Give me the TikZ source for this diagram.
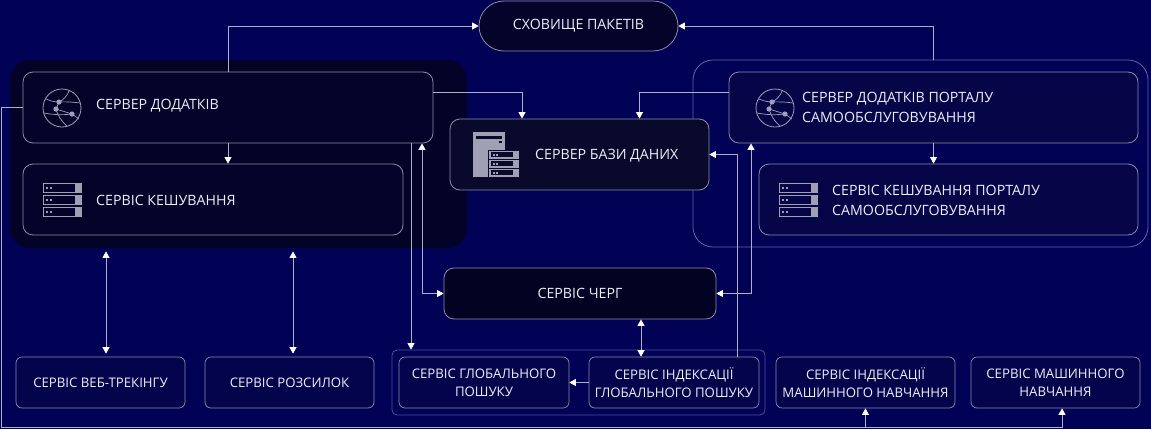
\documentclass[tikz,border=0pt]{standalone}
\usepackage{fontspec}
\setmainfont{Open Sans}
\usetikzlibrary{positioning,arrows.meta,calc}

\definecolor{bgnavy}{RGB}{1,1,86}
\definecolor{grpdark}{RGB}{3,3,40}
\definecolor{boxdark}{RGB}{4,4,42}
\definecolor{dbfill}{RGB}{9,9,44}
\definecolor{queuefill}{RGB}{2,2,34}
\definecolor{portfill}{RGB}{5,5,72}
\definecolor{lowfill}{RGB}{4,4,76}
\definecolor{edgegray}{RGB}{140,140,168}
\definecolor{conngray}{RGB}{175,175,200}
\definecolor{icongray}{RGB}{160,160,180}
\definecolor{portline}{RGB}{100,100,165}
\definecolor{srchline}{RGB}{80,80,155}
\definecolor{txtwhite}{RGB}{238,238,248}

\tikzset{
  >={Triangle[length=6.5pt,width=7pt,color=white]},
  grpbox/.style={rounded corners=20pt, inner sep=0pt, line width=0.8pt},
  bigbox/.style={draw=edgegray, line width=0.8pt, rounded corners=10pt, inner sep=0pt},
  lowbox/.style={draw=edgegray, fill=lowfill, line width=0.7pt, rounded corners=6pt,
    inner sep=0pt, minimum height=51pt, align=center, text=txtwhite,
    font=\fontsize{13.2}{18}\selectfont},
  txt/.style={text=txtwhite, font=\fontsize{14.2}{20}\selectfont, inner sep=0pt, align=left},
  conn/.style={draw=conngray, line width=0.8pt, ->},
  globe/.pic={
    \draw[icongray, line width=0.8pt] (0,0) circle (19pt);
    \draw[icongray, line width=0.7pt] (-16,-9) to[bend right=10] (-3,-6) to[bend left=5] (18,-5);
    \draw[icongray, line width=0.7pt] (7,-17) to[bend left=20] (-3,-6) -- (-6,1) -- (10,6) -- (17,11);
    \draw[icongray, line width=0.7pt] (-18,5) to[bend right=8] (10,6);
    \draw[icongray, line width=0.7pt] (-6,1) to[bend right=15] (5,18);
    \foreach \p in {(-3,-6),(-6,1),(10,6)} \fill[icongray] \p circle (2.6pt);
  },
  stack/.pic={
    \foreach \r in {0,12,24}{
      \draw[icongray, line width=0.8pt] (0,\r) rectangle (38,\r+9);
      \fill[icongray] (32,\r) rectangle (38,\r+9);
      \fill[icongray] (3,\r+3.5) rectangle (5,\r+5.5);
      \fill[icongray] (6.5,\r+3.5) rectangle (8.5,\r+5.5);
    }
  },
  dbicon/.pic={
    \fill[icongray] (0,0) rectangle (32,45);
    \fill[dbfill] (3,4) rectangle (29,7.3);
    \fill[dbfill] (26.3,8.7) rectangle (28.7,11.3);
    \fill[dbfill] (15,17.5) rectangle (47.5,46);
    \foreach \r in {18.7,27.7,36.7}{
      \fill[icongray] (16,\r) rectangle (46,\r+8);
      \fill[dbfill] (17.7,\r+1.5) rectangle (40.3,\r+6.5);
      \fill[icongray] (19.5,\r+3) rectangle (21.5,\r+5);
      \fill[icongray] (23,\r+3) rectangle (25,\r+5);
    }
  },
}

\begin{document}
\begin{tikzpicture}[x=1pt,y=-1pt]
    % Background
    \fill[bgnavy] (0,0) rectangle (1151,429);
    \useasboundingbox (0,0) rectangle (1151,429);

    % Groups
    \node[grpbox, fill=grpdark, minimum width=457pt, minimum height=188pt] (appgrp) at (238.5,154) {};
    \node[grpbox, draw=portline, minimum width=455pt, minimum height=187pt] (portgrp) at (920.5,153.5) {};
    \node[grpbox, draw=srchline, rounded corners=5pt, minimum width=373pt, minimum height=65pt] (srchgrp) at (578.5,382.5) {};

    % Application server and cache
    \node[bigbox, fill=boxdark, minimum width=410pt, minimum height=71pt] (app) at (228,107.5) {};
    \pic at (62,108) {globe};
    \node[txt, anchor=base west] (apptxt) at (96,109) {СЕРВЕР ДОДАТКІВ};
    \node[bigbox, fill=boxdark, minimum width=380pt, minimum height=71pt] (cache) at (213,199.5) {};
    \pic at (43,183) {stack};
    \node[txt, anchor=base west] (cachetxt) at (96,205) {СЕРВІС КЕШУВАННЯ};

    % Package storage
    \node[bigbox, fill=boxdark, rounded corners=25pt, minimum width=199pt, minimum height=50pt,
      txt] (store) at (578.5,26) {СХОВИЩЕ ПАКЕТІВ};

    % Database server
    \node[bigbox, fill=dbfill, minimum width=259pt, minimum height=71pt] (db) at (579.5,154.5) {};
    \pic at (473,132) {dbicon};
    \node[txt, anchor=base west] (dbtxt) at (535,159) {СЕРВЕР БАЗИ ДАНИХ};

    % Self-service portal
    \node[bigbox, fill=portfill, minimum width=409pt, minimum height=71pt] (portapp) at (933.5,107.5) {};
    \pic at (775,108) {globe};
    \node[txt, anchor=base west] (portapptxt) at (802,122.5) {СЕРВЕР ДОДАТКІВ ПОРТАЛУ\\САМООБСЛУГОВУВАННЯ};
    \node[bigbox, fill=portfill, minimum width=379pt, minimum height=71pt] (portcache) at (948.5,199.5) {};
    \pic at (779,183) {stack};
    \node[txt, anchor=base west] (portcachetxt) at (832,215.5) {СЕРВІС КЕШУВАННЯ ПОРТАЛУ\\САМООБСЛУГОВУВАННЯ};

    % Queue service
    \node[bigbox, fill=queuefill, minimum width=272pt, minimum height=51pt, txt] (queue) at (580,293.5) {СЕРВІС ЧЕРГ};

    % Lower services
    \node[lowbox, minimum width=169pt] (web) at (100.5,382.5) {СЕРВІС ВЕБ-ТРЕКІНГУ};
    \node[lowbox, minimum width=169pt] (mail) at (289.5,382.5) {СЕРВІС РОЗСИЛОК};
    \node[lowbox, minimum width=170pt] (srch) at (484,382.5) {СЕРВІС ГЛОБАЛЬНОГО\\ПОШУКУ};
    \node[lowbox, minimum width=170pt] (idx) at (674,382.5) {СЕРВІС ІНДЕКСАЦІЇ\\ГЛОБАЛЬНОГО ПОШУКУ};
    \node[lowbox, minimum width=179pt] (mlidx) at (865.5,382.5) {СЕРВІС ІНДЕКСАЦІЇ\\МАШИННОГО НАВЧАННЯ};
    \node[lowbox, minimum width=169pt] (ml) at (1055.5,382.5) {СЕРВІС МАШИННОГО\\НАВЧАННЯ};

    % Connectors
    \draw[conn] (app.north) |- (store.west);
    \draw[conn] (portapp.north |- portgrp.north) |- (store.east);
    \draw[conn] (app.south) -- (app.south |- cache.north);
    \draw[conn] (portapp.south) -- (portapp.south |- portcache.north);
    \draw[conn] ([yshift=15pt]app.east) -| ([xshift=-57.5pt]db.north);
    \draw[conn] ([yshift=15pt]portapp.west) -| ([xshift=60pt]db.north);
    \draw[conn] ([xshift=63pt]idx.north) |- (db.east);
    \draw[conn, <->] (queue.east) -| ([xshift=-182.5pt]portapp.south);
    \draw[conn, <->] (queue.west) -| ([xshift=194pt]app.south);
    \draw[conn] ([xshift=183pt]app.south) -- ([xshift=183pt]app.south |- srchgrp.north);
    \draw[conn, <->] ([xshift=61pt]queue.south) -- ([xshift=61pt]queue.south |- idx.north);
    \draw[conn] (idx.west) -- (srch.east);
    \draw[conn, <->, shorten <=3pt, shorten >=3pt] ([xshift=5.5pt]web.north) -- ([xshift=5.5pt]web.north |- appgrp.south);
    \draw[conn, <->, shorten <=3pt, shorten >=3pt] ([xshift=3.5pt]mail.north) -- ([xshift=3.5pt]mail.north |- appgrp.south);

    % Line along the edges to machine learning
    \coordinate (edgebl) at (1.5,427.5);
    \draw[conn] (app.west) -| (edgebl) -| (mlidx.south);
    \draw[conn] (edgebl) -| ([xshift=6.5pt]ml.south);
\end{tikzpicture}
\end{document}
